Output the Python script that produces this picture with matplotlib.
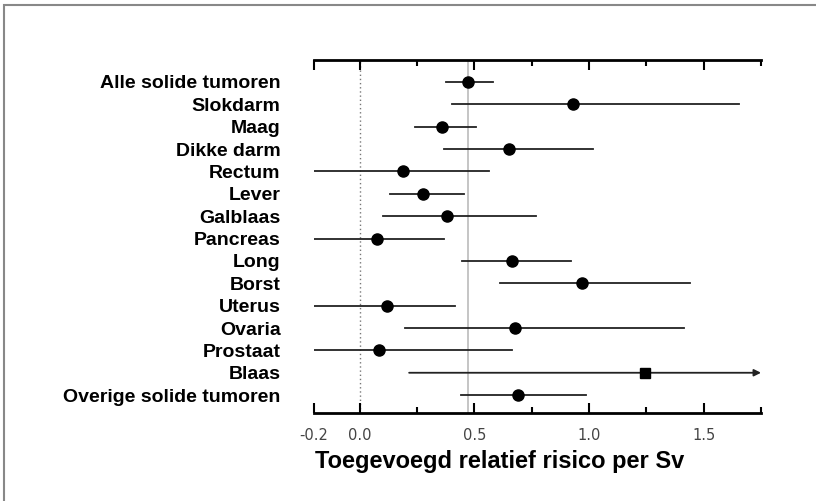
import matplotlib
matplotlib.use('Agg')
import matplotlib.pyplot as plt
from matplotlib.patches import Rectangle

# Excess relative risk per Sv with 90% CI per cancer site
sites = ['Alle solide tumoren', 'Slokdarm', 'Maag', 'Dikke darm', 'Rectum',
         'Lever', 'Galblaas', 'Pancreas', 'Long', 'Borst', 'Uterus',
         'Ovaria', 'Prostaat', 'Blaas', 'Overige solide tumoren']
err = [0.47, 0.93, 0.36, 0.65, 0.19, 0.275, 0.38, 0.075, 0.665, 0.97,
       0.12, 0.675, 0.085, 1.245, 0.69]
lo = [0.375, 0.40, 0.24, 0.365, -0.2, 0.13, 0.10, -0.2, 0.445, 0.61,
      -0.2, 0.195, -0.2, 0.215, 0.44]
hi = [0.58, 1.655, 0.505, 1.015, 0.565, 0.455, 0.77, 0.365, 0.92, 1.44,
      0.415, 1.415, 0.665, 1.75, 0.985]
all_solid = err[0]

fig = plt.figure(figsize=(8.16, 5.01), dpi=100)
ax = fig.add_axes([0.3848, 0.1756, 0.5478, 0.7046])

# reference lines: zero and the value for all solid tumours
ax.axvline(0.0, color='#777777', lw=1, ls=(0, (1, 2)), zorder=1)
ax.axvline(all_solid, color='#bbbbbb', lw=1.2, zorder=1)

for i, name in enumerate(sites):
    if name == 'Blaas':
        ax.annotate('', xy=(hi[i], i), xytext=(lo[i], i),
                    arrowprops=dict(arrowstyle='-|>', color='#222222', lw=1.3,
                                    mutation_scale=10, shrinkA=0, shrinkB=0),
                    zorder=2)
        ax.plot(err[i], i, marker='s', ms=7.5, color='black', zorder=3)
    else:
        ax.plot([lo[i], hi[i]], [i, i], color='#222222', lw=1.3, zorder=2)
        ax.plot(err[i], i, marker='o', ms=8, color='black', zorder=3)

ax.set_xlim(-0.2, 1.75)
ax.set_ylim(14.8, -0.98)

ax.set_xticks([-0.2, 0.0, 0.5, 1.0, 1.5])
ax.set_xticklabels(['-0.2', '0.0', '0.5', '1.0', '1.5'])
ax.set_xticks([0.25, 0.75, 1.25, 1.75], minor=True)
ax.tick_params(axis='x', which='both', direction='in', top=True, bottom=True,
               width=1.5, color='black', labelsize=10.5, labelcolor='#444444', pad=11)
ax.tick_params(axis='x', which='major', length=7)
ax.tick_params(axis='x', which='minor', length=4)

ax.set_yticks(range(len(sites)))
ax.set_yticklabels(sites, fontfamily='Liberation Sans', fontweight='bold', fontsize=14)
ax.tick_params(axis='y', length=0, pad=24)

for side in ['left', 'right']:
    ax.spines[side].set_visible(False)
for side in ['top', 'bottom']:
    ax.spines[side].set_linewidth(2)

ax.set_xlabel('Toegevoegd relatief risico per Sv', fontfamily='Liberation Sans',
              fontweight='bold', fontsize=17)
ax.xaxis.set_label_coords(0.416, -0.106)

# thin grey frame along the left and top edge
fig.add_artist(Rectangle((0.005, -0.05), 1.1, 1.04, transform=fig.transFigure,
                         fill=False, edgecolor='#888888', lw=1.5))

fig.savefig('out.png', dpi=100)
